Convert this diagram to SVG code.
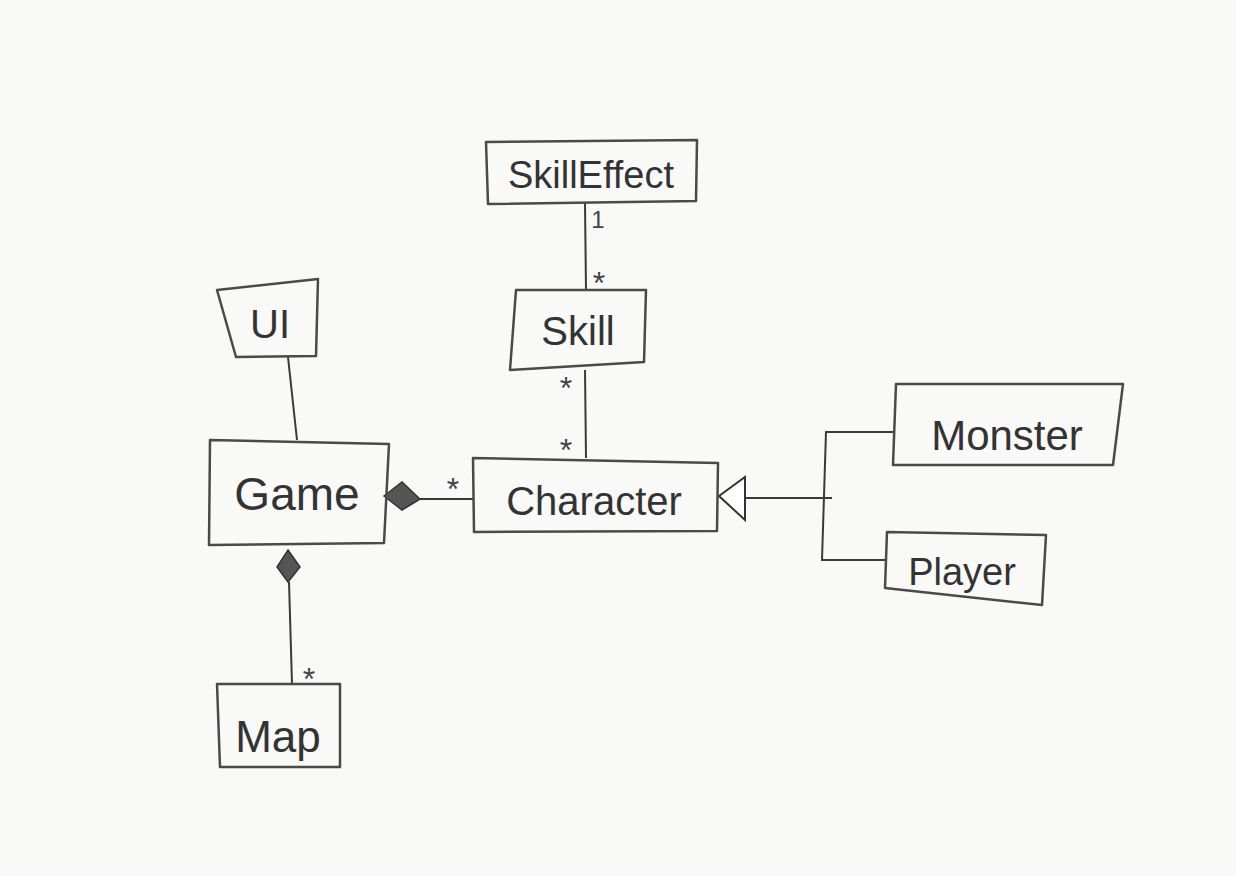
<svg xmlns="http://www.w3.org/2000/svg" width="1236" height="876" viewBox="0 0 1236 876">
<defs>
<style>
.box{fill:none;stroke:#4a4a4a;stroke-width:2.5;stroke-linejoin:round}
.ln{fill:none;stroke:#3a3a3a;stroke-width:2}
.t{font-family:"Liberation Sans",Arial,sans-serif;fill:#333;font-weight:normal;text-anchor:middle}
.m{font-family:"Liberation Sans",Arial,sans-serif;fill:#444;font-size:32px;text-anchor:middle}
.one{font-family:"Liberation Sans",Arial,sans-serif;fill:#444;font-size:24px;text-anchor:middle}
.dia{fill:#555;stroke:#333;stroke-width:1.5}
.tri{fill:#fff;stroke:#333;stroke-width:2}
</style>
</defs>
<rect width="1236" height="876" fill="#f9f9f8"/>
<g id="connectors">
<path class="ln" d="M585,203 L586,290"/>
<path class="ln" d="M585,370 L586,458"/>
<path class="ln" d="M288,357 L297,440"/>
<path class="ln" d="M420,499 L473,499"/>
<path class="ln" d="M289,582 L292,684"/>
<path class="ln" d="M745,498 L832,498"/>
<path class="ln" d="M893,432 L826,432 L822,560 L885,560"/>
<polygon class="dia" points="384,496 402,482 420,499 402,510"/>
<polygon class="dia" points="288,550 300,567 288,582 277,567"/>
<polygon class="tri" points="719,496 745,477 745,520"/>
<text class="one" x="598" y="228">1</text>
<text class="m" x="599" y="294">*</text>
<text class="m" x="566" y="399">*</text>
<text class="m" x="566" y="461">*</text>
<text class="m" x="453" y="500">*</text>
<text class="m" x="309" y="690">*</text>
</g>
<g id="SkillEffect">
<path class="box" d="M486,142 L697,140 L696,201 L488,204 Z"/>
<text class="t" x="591" y="188" font-size="38">SkillEffect</text>
</g>
<g id="Skill">
<path class="box" d="M516,290 L646,290 L644,362 L510,370 Z"/>
<text class="t" x="578" y="345" font-size="40">Skill</text>
</g>
<g id="UI">
<path class="box" d="M217,290 L318,279 L316,356 L236,357 Z"/>
<text class="t" x="270" y="338" font-size="40">UI</text>
</g>
<g id="Game">
<path class="box" d="M210,440 L389,444 L384,543 L209,545 Z"/>
<text class="t" x="297" y="510" font-size="46">Game</text>
</g>
<g id="Character">
<path class="box" d="M473,458 L718,463 L717,531 L474,532 Z"/>
<text class="t" x="594" y="515" font-size="40">Character</text>
</g>
<g id="Monster">
<path class="box" d="M896,384 L1123,384 L1113,465 L893,465 Z"/>
<text class="t" x="1007" y="450" font-size="42">Monster</text>
</g>
<g id="Player">
<path class="box" d="M887,532 L1046,535 L1042,605 L885,588 Z"/>
<text class="t" x="962" y="585" font-size="38">Player</text>
</g>
<g id="Map">
<path class="box" d="M217,684 L340,684 L340,767 L220,767 Z"/>
<text class="t" x="278" y="752" font-size="44">Map</text>
</g>
</svg>
